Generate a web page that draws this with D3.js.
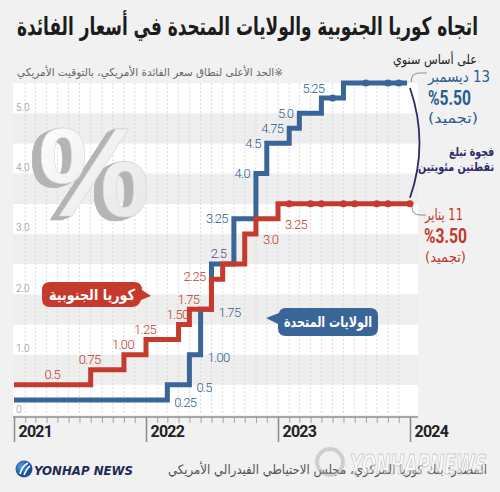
<!DOCTYPE html>
<html><head><meta charset="utf-8">
<script src="https://cdn.jsdelivr.net/npm/d3@7"></script>
<style>
html,body{margin:0;padding:0;background:#f1f1f1;}
svg{display:block;}
</style></head>
<body>
<svg id="c" width="500" height="492"></svg>
<script>
// ---------------- DATA ----------------
const koreaMonths = ["2021-01","2021-08","2021-11","2022-01","2022-04","2022-05","2022-07","2022-08","2022-10","2022-11","2023-01"];
const koreaRates  = [0.5, 0.75, 1.00, 1.25, 1.50, 1.75, 2.25, 2.50, 3.00, 3.25, 3.50];
const koreaLabels = ["0.5","0.75","1.00","1.25","1.50","1.75","2.25","","3.0","3.25",""];
const koreaLabelPlace = ["mid","above","above","above","above","above","left","","belowRight","belowRight",""];
const koreaHolds  = ["2023-02","2023-04","2023-05","2023-07","2023-08","2023-10","2023-11","2024-01"];
const koreaEnd    = "2024-01";

const usMonths = ["2021-01","2022-03","2022-05","2022-06","2022-07","2022-09","2022-11","2022-12","2023-02","2023-03","2023-05","2023-07"];
const usRates  = [0.25, 0.5, 1.00, 1.75, 2.50, 3.25, 4.00, 4.50, 4.75, 5.00, 5.25, 5.50];
const usLabels = ["0.25","0.5","1.00","1.75","2.5","3.25","4.0","4.5","4.75","5.0","5.25",""];
const usLabelPlace = ["right","right","right","right","shared","left","left","left","left","left","aboveLeft",""];
const usHolds  = ["2023-06","2023-09","2023-11","2023-12"];
const usEnd    = "2023-12-24";

const yTicks = [0, 1, 2, 3, 4, 5];
const yearTicks = ["2021","2022","2023","2024"];

const title = "اتجاه كوريا الجنوبية والولايات المتحدة في أسعار الفائدة";
const subtitle = "على أساس سنوي";
const note = "※الحد الأعلى لنطاق سعر الفائدة الأمريكي، بالتوقيت الأمريكي";
const source = "المصدر: بنك كوريا المركزي، مجلس الاحتياطي الفيدرالي الأمريكي";
const koreaName = "كوريا الجنوبية";
const usName = "الولايات المتحدة";
const usLast = ["13 ديسمبر", "%5.50", "(تجميد)"];
const koreaLast = ["11 يناير", "%3.50", "(تجميد)"];
const gapText = ["فجوة تبلغ", "نقطتين مئويتين"];

// ---------------- SETUP ----------------
const RED = "#c63a2e", BLUE = "#3a6598", RED_T = "#c0392b", BLUE_T = "#2b5c90", PURPLE = "#5a3f85", GAPC = "#2e2a6b";
const AR = "'DejaVu Sans', sans-serif";
const NUM = "Roboto, 'Liberation Sans', sans-serif";
const svg = d3.select("#c");
const defs = svg.append("defs");
const pd = s => new Date((s.length === 7 ? s + "-01" : s) + "T00:00:00Z");

const x = d3.scaleUtc().domain([pd("2021-01"), pd("2024-01")]).range([14, 410]);
const y = d3.scaleLinear().domain([0, 5.5]).range([415, 83]);
const PL = 13, PR = 418;

svg.append("rect").attr("width", 500).attr("height", 492).attr("fill", "#f1f1f1");

// align text (middle anchor is direction independent)
function place(sel, mode, xt) {
  const w = sel.node().getComputedTextLength();
  const cx = mode === "right" ? xt - w / 2 : mode === "left" ? xt + w / 2 : xt;
  sel.attr("text-anchor", "middle").attr("x", cx);
  return sel;
}
function arText(g, str, size, weight, fill, yb, width) {
  const t = g.append("text").attr("x", 0).attr("y", yb).attr("direction", "rtl")
    .attr("text-anchor", "middle").attr("font-family", AR).attr("font-size", size)
    .attr("font-weight", weight).attr("fill", fill).text(str);
  if (width) t.attr("textLength", width).attr("lengthAdjust", "spacingAndGlyphs");
  return t;
}

// ---------------- TITLE ----------------
place(arText(svg, title, 25, "bold", "#1c1c1c", 35, 461), "right", 478);
place(arText(svg, subtitle, 13, "normal", "#222", 64, 84), "right", 477);
place(arText(svg, note, 11, "normal", "#666", 76, 266), "right", 283);

// ---------------- BANDS ----------------
const bands = d3.range(0, 11).map(i => i * 0.5);
svg.append("g").selectAll("rect").data(bands).join("rect")
  .attr("x", PL).attr("width", PR - PL)
  .attr("y", d => y(d + 0.5)).attr("height", d => y(d) - y(d + 0.5))
  .attr("fill", (d, i) => i % 2 === 0 ? "#ffffff" : "#eeeeee");

// vertical monthly dashed grid
const months = d3.utcMonth.range(pd("2021-02"), pd("2024-01"));
svg.append("g").selectAll("line").data(months).join("line")
  .attr("x1", d => x(d)).attr("x2", d => x(d)).attr("y1", y(5.5)).attr("y2", y(0))
  .attr("stroke", "#dadada").attr("stroke-width", 1).attr("stroke-dasharray", "2,2");

// big 3D percent sign (extrusion via filter, single text element)
const f = defs.append("filter").attr("id", "extrude").attr("x", "-30%").attr("y", "-30%").attr("width", "160%").attr("height", "160%");
const steps = d3.range(1, 11);
steps.forEach(i => {
  f.append("feOffset").attr("in", "SourceAlpha").attr("dx", -i * 0.9).attr("dy", i * 0.35).attr("result", "o" + i);
});
const fm = f.append("feMerge").attr("result", "ext");
steps.forEach(i => fm.append("feMergeNode").attr("in", "o" + i));
f.append("feFlood").attr("flood-color", "#b4b4b4").attr("result", "fl");
f.append("feComposite").attr("in", "fl").attr("in2", "ext").attr("operator", "in").attr("result", "shade");
const fm2 = f.append("feMerge");
fm2.append("feMergeNode").attr("in", "shade");
fm2.append("feMergeNode").attr("in", "SourceGraphic");
const grad = defs.append("linearGradient").attr("id", "pctg").attr("x1", 0).attr("y1", 0).attr("x2", 1).attr("y2", 1);
grad.append("stop").attr("offset", "0%").attr("stop-color", "#ffffff");
grad.append("stop").attr("offset", "100%").attr("stop-color", "#e4e4e4");
svg.append("text").attr("x", 94).attr("y", 172)
  .attr("text-anchor", "middle").attr("dominant-baseline", "central")
  .attr("font-family", "'Liberation Sans'").attr("font-weight", "bold").attr("font-size", 126)
  .attr("fill", "url(#pctg)").attr("stroke", "#d8d8d8").attr("stroke-width", 0.6)
  .attr("filter", "url(#extrude)").text("%");

// y axis labels
const yAx = svg.append("g").attr("transform", `translate(${PL},0)`)
  .call(d3.axisRight(y).tickValues(yTicks).tickSize(0).tickFormat(d => d === 0 ? "0" : d.toFixed(1)));
yAx.select(".domain").remove();
yAx.selectAll("text").attr("x", 3).attr("dy", -3).attr("fill", "#8c8c8c")
  .attr("font-family", "Roboto, 'Liberation Sans',sans-serif").attr("font-weight", 300).attr("font-size", 10);

// x axis
const minorAx = svg.append("g").attr("transform", "translate(0,417)")
  .call(d3.axisBottom(x).ticks(d3.utcMonth.every(1)).tickSize(6).tickFormat(""));
minorAx.select(".domain").remove();
minorAx.selectAll("line").attr("stroke", "#a0a0a0");
const majorAx = svg.append("g").attr("transform", "translate(0,417)")
  .call(d3.axisBottom(x).tickValues(yearTicks.map(pd)).tickSize(25).tickFormat(d3.utcFormat("%Y")));
majorAx.select(".domain").remove();
majorAx.selectAll("line").attr("stroke", "#8a8a8a").attr("stroke-width", 1.5);
majorAx.selectAll("text").attr("x", 4).attr("y", 20).attr("dy", 0).attr("text-anchor", "start")
  .attr("fill", "#222").attr("font-family", "Roboto, sans-serif").attr("font-weight", "bold")
  .attr("font-size", 16).attr("letter-spacing", -0.8);
svg.append("line").attr("x1", PL).attr("x2", PR).attr("y1", 417).attr("y2", 417)
  .attr("stroke", "#8c8c8c").attr("stroke-width", 1.5);

// ---------------- LINES ----------------
const line = d3.line().x(d => x(d.date)).y(d => y(d.rate)).curve(d3.curveStepAfter);
function series(monthsArr, rates, end) {
  const pts = monthsArr.map((m, i) => ({ date: pd(m), rate: rates[i] }));
  pts.push({ date: pd(end), rate: rates[rates.length - 1] });
  return pts;
}
const usPts = series(usMonths, usRates, usEnd);
const krPts = series(koreaMonths, koreaRates, koreaEnd);
const rateAt = (pts, d) => pts.filter(p => p.date <= d).pop().rate;

svg.append("path").datum(usPts).attr("d", line).attr("fill", "none")
  .attr("stroke", BLUE).attr("stroke-width", 5);
svg.append("path").datum(krPts).attr("d", line).attr("fill", "none")
  .attr("stroke", RED).attr("stroke-width", 5);

svg.append("g").selectAll("circle").data(usHolds).join("circle")
  .attr("cx", d => x(pd(d))).attr("cy", d => y(rateAt(usPts, pd(d))))
  .attr("r", 3.6).attr("fill", BLUE);
svg.append("g").selectAll("circle").data(koreaHolds).join("circle")
  .attr("cx", d => x(pd(d))).attr("cy", d => y(rateAt(krPts, pd(d))))
  .attr("r", 3.6).attr("fill", RED);

// ---------------- VALUE LABELS ----------------
function labels(pts, labs, placeArr, color, isKr) {
  const g = svg.append("g").attr("font-family", NUM).attr("font-weight", 300)
    .attr("font-size", 13).attr("letter-spacing", -0.7);
  labs.forEach((t, i) => {
    if (!t) return;
    const xs = x(pts[i].date), xe = x(pts[i + 1].date), yy = y(pts[i].rate);
    let tx, ty, anc = "middle", col = color;
    switch (placeArr[i]) {
      case "mid": tx = (xs + xe) / 2; ty = yy - 10; break;
      case "above": tx = xs - 1; ty = yy - 10; break;
      case "left": tx = xs - 6; ty = yy - (isKr ? 3 : 0); anc = "end"; break;
      case "right": tx = xe + 7; ty = yy + 3; anc = "start"; break;
      case "belowRight": tx = xe + 7; ty = yy + 6; anc = "start"; break;
      case "shared": tx = xs + 7; ty = yy - 11; col = PURPLE; break;
      case "aboveLeft": tx = xs + 3; ty = yy - 10; anc = "end"; break;
    }
    g.append("text").attr("x", tx).attr("y", ty).attr("text-anchor", anc)
      .attr("dominant-baseline", "central").attr("fill", col).text(t);
  });
}
labels(usPts, usLabels, usLabelPlace, BLUE_T, false);
labels(krPts, koreaLabels, koreaLabelPlace, RED_T, true);

// ---------------- CALLOUTS ----------------
svg.append("path").attr("d", "M50,282 H134 Q142,282 142,290 L151,296 L141,300 Q139,307 132,307 H50 Q42,307 42,299 V290 Q42,282 50,282 Z")
  .attr("fill", RED);
place(arText(svg, koreaName, 15, "bold", "#fff", 300, 86), "middle", 92);
svg.append("path").attr("d", "M286,308 H370 Q378,308 378,316 V328 Q378,336 370,336 H286 Q278,336 278,328 V324 L266,318 L279,313 Q280,308 286,308 Z")
  .attr("fill", BLUE);
place(arText(svg, usName, 15, "bold", "#fff", 327, 88), "middle", 328);

// ---------------- RIGHT ANNOTATIONS ----------------
const endX = x(pd(usEnd));
svg.append("path").attr("d", `M${endX + 4},82 Q${endX + 4},73 ${endX + 12},73 L427,73`)
  .attr("fill", "none").attr("stroke", "#8d8d8d").attr("stroke-width", 1);
svg.append("path").attr("d", `M412,${y(3.5) + 3} Q412,215 420,215 L426,215`)
  .attr("fill", "none").attr("stroke", "#8d8d8d").attr("stroke-width", 1);
svg.append("path").attr("d", `M410,${y(5.5) + 5} Q429,${(y(5.5) + y(3.5)) / 2} 410,${y(3.5) - 6}`)
  .attr("fill", "none").attr("stroke", GAPC).attr("stroke-width", 1.8);

place(arText(svg, usLast[0], 15.5, "normal", BLUE_T, 82, 62), "left", 428);
svg.append("text").attr("x", 428).attr("y", 105).attr("font-family", NUM).attr("font-weight", "bold")
  .attr("font-size", 20).attr("fill", BLUE_T).attr("textLength", 43).attr("lengthAdjust", "spacingAndGlyphs").text(usLast[1]);
place(arText(svg, usLast[2], 14, "normal", BLUE_T, 123, 50), "left", 428);

place(arText(svg, gapText[0], 12, "bold", GAPC, 156, 45), "right", 494);
place(arText(svg, gapText[1], 12, "bold", GAPC, 171, 76), "right", 494);

place(arText(svg, koreaLast[0], 15.5, "normal", RED_T, 220, 38), "left", 425);
svg.append("text").attr("x", 424).attr("y", 243).attr("font-family", NUM).attr("font-weight", "bold")
  .attr("font-size", 20).attr("fill", RED_T).attr("textLength", 43).attr("lengthAdjust", "spacingAndGlyphs").text(koreaLast[1]);
place(arText(svg, koreaLast[2], 14, "normal", RED_T, 262, 41), "left", 425);

// ---------------- FOOTER ----------------
const lg = svg.append("g");
const lgrad = defs.append("radialGradient").attr("id", "lg").attr("cx", "35%").attr("cy", "35%");
lgrad.append("stop").attr("offset", "0%").attr("stop-color", "#5b9be0");
lgrad.append("stop").attr("offset", "100%").attr("stop-color", "#1c4f9c");
lg.append("circle").attr("cx", 24).attr("cy", 469).attr("r", 8.5).attr("fill", "url(#lg)");
lg.append("path").attr("d", "M20,474 Q22,466 28,463 M24,475 Q27,468 30,466")
  .attr("fill", "none").attr("stroke", "#fff").attr("stroke-width", 1.6);
lg.append("text").attr("x", 34).attr("y", 475).attr("font-family", "'DejaVu Sans'").attr("font-style", "italic")
  .attr("font-weight", "bold").attr("font-size", 13).attr("fill", "#1d2a55")
  .attr("textLength", 99).attr("lengthAdjust", "spacingAndGlyphs").text("YONHAP NEWS");

place(arText(svg, source, 13, "normal", "#555", 474, 319), "right", 487);

// watermark
const wm = svg.append("g").attr("opacity", 0.45);
wm.append("circle").attr("cx", 330).attr("cy", 462).attr("r", 13).attr("fill", "none").attr("stroke", "#a8a8a8").attr("stroke-width", 4);
wm.append("text").attr("x", 350).attr("y", 474).attr("font-family", "'DejaVu Sans'").attr("font-weight", "bold")
  .attr("font-style", "italic").attr("font-size", 26).attr("fill", "#ffffff").attr("stroke", "#a0a0a0").attr("stroke-width", 1)
  .attr("textLength", 137).attr("lengthAdjust", "spacingAndGlyphs").text("YONHAPNEWS");
</script>
</body></html>
